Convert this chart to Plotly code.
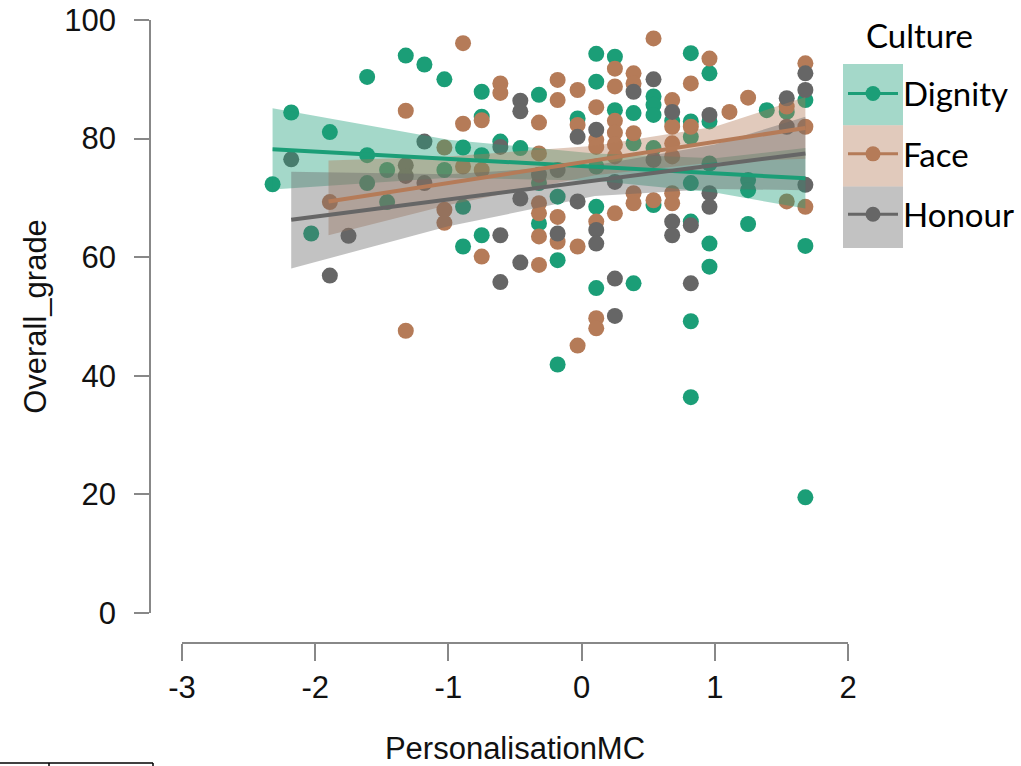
import plotly.graph_objects as go

# ---------------- data ----------------
dignity_x = [-2.32, -2.18, -2.03, -1.89, -1.61, -1.61, -1.61, -1.46, -1.46, -1.32,
             -1.18, -1.03, -1.03, -0.89, -0.89, -0.89, -0.75, -0.75, -0.75, -0.75,
             -0.61, -0.46, -0.32, -0.32, -0.32, -0.18, -0.18, -0.18, -0.03,
             0.11, 0.11, 0.11, 0.11, 0.11, 0.25, 0.25, 0.39, 0.39, 0.39,
             0.54, 0.54, 0.54, 0.54, 0.54, 0.68,
             0.82, 0.82, 0.82, 0.82, 0.82, 0.82, 0.82,
             0.96, 0.96, 0.96, 0.96, 0.96, 1.25, 1.25, 1.25, 1.39, 1.54,
             1.68, 1.68, 1.68]
dignity_y = [72.3, 84.4, 64.0, 81.1, 90.4, 77.2, 72.5, 74.7, 69.3, 94.0,
             92.5, 90.0, 74.7, 78.5, 68.5, 61.8, 87.9, 83.7, 77.2, 63.7,
             79.5, 78.4, 87.4, 72.5, 65.7, 70.2, 59.5, 41.9, 83.4,
             94.3, 89.6, 75.3, 68.5, 54.8, 93.8, 84.8, 84.3, 79.2, 55.6,
             87.1, 85.7, 84.0, 78.4, 68.8, 83.0,
             94.4, 82.9, 80.3, 72.5, 66.0, 49.2, 36.4,
             91.0, 82.9, 75.8, 62.3, 58.4, 73.0, 71.3, 65.6, 84.8, 84.5,
             86.5, 61.9, 19.5]

face_x = [-1.89, -1.32, -1.32, -1.03, -1.03, -1.03, -0.89, -0.89, -0.89,
          -0.75, -0.75, -0.75, -0.61, -0.61,
          -0.32, -0.32, -0.32, -0.32, -0.32, -0.32,
          -0.18, -0.18, -0.18, -0.18, -0.03, -0.03, -0.03, -0.03,
          0.11, 0.11, 0.11, 0.11, 0.11, 0.11,
          0.25, 0.25, 0.25, 0.25, 0.25, 0.25, 0.25,
          0.39, 0.39, 0.39, 0.39, 0.39, 0.54, 0.54,
          0.68, 0.68, 0.68, 0.68, 0.68, 0.68, 0.82, 0.82, 0.96, 1.11, 1.25,
          1.54, 1.54, 1.68, 1.68, 1.68]
face_y = [69.3, 84.7, 47.6, 78.5, 68.0, 65.8, 96.1, 82.5, 75.3,
          83.1, 74.7, 60.1, 89.3, 87.7,
          82.7, 77.5, 69.1, 67.4, 63.5, 58.7,
          89.9, 86.5, 66.8, 62.6, 88.2, 82.3, 61.8, 45.1,
          85.3, 79.8, 78.6, 66.0, 49.7, 48.0,
          91.8, 88.8, 83.0, 81.0, 79.0, 77.0, 67.4,
          91.0, 89.3, 80.9, 70.8, 69.1, 96.9, 69.6,
          86.5, 82.0, 79.2, 77.0, 70.8, 69.1, 89.3, 82.0, 93.5, 84.5, 86.9,
          85.4, 69.4, 92.7, 82.0, 68.5]

honour_x = [-2.18, -1.89, -1.75, -1.32, -1.32, -1.18, -1.18,
            -0.61, -0.61, -0.61, -0.46, -0.46, -0.46, -0.46, -0.32,
            -0.18, -0.18, -0.03, -0.03, 0.11, 0.11, 0.11, 0.25, 0.25, 0.25,
            0.39, 0.54, 0.54, 0.68, 0.68, 0.68, 0.82, 0.82, 0.96, 0.96, 0.96,
            1.54, 1.54, 1.68, 1.68, 1.68]
honour_y = [76.5, 56.9, 63.6, 75.5, 73.7, 79.5, 72.5,
            78.6, 63.7, 55.8, 86.4, 84.6, 69.9, 59.1, 73.9,
            74.7, 64.0, 80.3, 69.4, 81.5, 64.6, 62.3, 72.7, 56.4, 50.1,
            87.9, 90.0, 76.4, 84.5, 66.0, 63.7, 65.4, 55.6, 84.0, 70.8, 68.5,
            86.8, 82.0, 91.0, 88.2, 72.2]

# regression lines (end points) and confidence bands
dignity_line_x = [-2.32, 1.68]
dignity_line_y = [78.2, 73.3]
dignity_band_x = [-2.32, -1.0, 0.1, 1.0, 1.68]
dignity_band_lo = [71.4, 73.4, 72.9, 70.9, 68.2]
dignity_band_hi = [85.1, 79.8, 77.5, 76.7, 78.4]

face_line_x = [-1.9, 1.68]
face_line_y = [69.4, 81.8]
face_band_x = [-1.9, -1.0, 0.1, 1.0, 1.68]
face_band_lo = [63.7, 68.8, 73.8, 76.0, 76.6]
face_band_hi = [76.3, 77.0, 78.8, 82.0, 87.0]

honour_line_x = [-2.18, 1.68]
honour_line_y = [66.3, 77.5]
honour_band_x = [-2.18, -1.0, 0.1, 1.0, 1.68]
honour_band_lo = [58.1, 65.2, 70.3, 71.5, 71.3]
honour_band_hi = [74.4, 74.0, 75.5, 79.0, 83.7]

groups = ["Dignity", "Face", "Honour"]
x_ticks = [-3, -2, -1, 0, 1, 2]
y_ticks = [0, 20, 40, 60, 80, 100]

# ---------------- styling ----------------
colors = {"Dignity": (27, 158, 119), "Face": (181, 123, 88), "Honour": (102, 102, 102)}
def rgb(c, a=1.0):
    return f"rgba({c[0]},{c[1]},{c[2]},{a})"

pts = {"Dignity": (dignity_x, dignity_y), "Face": (face_x, face_y), "Honour": (honour_x, honour_y)}
lines = {"Dignity": (dignity_line_x, dignity_line_y), "Face": (face_line_x, face_line_y),
         "Honour": (honour_line_x, honour_line_y)}
bands = {"Dignity": (dignity_band_x, dignity_band_lo, dignity_band_hi),
         "Face": (face_band_x, face_band_lo, face_band_hi),
         "Honour": (honour_band_x, honour_band_lo, honour_band_hi)}

fig = go.Figure()

for g in groups:
    x, y = pts[g]
    fig.add_trace(go.Scatter(x=x, y=y, mode="markers", showlegend=False,
                             marker=dict(size=16, color=rgb(colors[g]), line=dict(width=0)),
                             cliponaxis=False, hoverinfo="skip"))

for g in groups:
    bx, lo, hi = bands[g]
    fig.add_trace(go.Scatter(x=list(bx) + list(bx)[::-1], y=list(hi) + list(lo)[::-1],
                             fill="toself", fillcolor=rgb(colors[g], 0.4),
                             line=dict(width=0), mode="lines", showlegend=False,
                             hoverinfo="skip"))

for g in groups:
    lx, ly = lines[g]
    fig.add_trace(go.Scatter(x=lx, y=ly, mode="lines", showlegend=False,
                             line=dict(color=rgb(colors[g]), width=4), hoverinfo="skip"))

# legend entries
for g in groups:
    fig.add_trace(go.Scatter(x=[None], y=[None], mode="lines+markers", name=g,
                             legendgroup=g,
                             line=dict(color=rgb(colors[g]), width=3),
                             marker=dict(size=15, color=rgb(colors[g]))))

W, H = 1021, 766
L, R, T, B = 150, 0, 0, 123
PW, PH = W - L - R, H - T - B

def px(xp):
    return (xp - L) / PW
def py(yp):
    return 1 - (yp - T) / PH

shapes = []
# legend background boxes
for i, g in enumerate(groups):
    y0p = 64 + i * 61.3
    shapes.append(dict(type="rect", xref="paper", yref="paper",
                       x0=px(843), x1=px(903), y0=py(y0p + 61.3), y1=py(y0p),
                       fillcolor=rgb(colors[g], 0.4), line=dict(width=0), layer="below"))
# stray table border at bottom-left
shapes.append(dict(type="line", xref="paper", yref="paper", x0=px(0), x1=px(153),
                   y0=py(763), y1=py(763), line=dict(color="black", width=1.5)))
for xv in (49, 153):
    shapes.append(dict(type="line", xref="paper", yref="paper", x0=px(xv), x1=px(xv),
                       y0=py(763), y1=py(768), line=dict(color="black", width=1.5)))

axis_font = dict(family="Liberation Sans, Arial", size=31, color="#111")
title_font = dict(family="Liberation Sans, Arial", size=31, color="#111")
legend_font = dict(family="Lato, Open Sans", size=33, color="#000")
fig.update_layout(
    width=W, height=H,
    margin=dict(l=L, r=R, t=T, b=B, pad=0, autoexpand=False),
    plot_bgcolor="white", paper_bgcolor="white",
    shapes=shapes,
    annotations=[dict(text="Culture", xref="paper", yref="paper", x=px(864), y=py(35),
                      xanchor="left", yanchor="middle", showarrow=False, font=legend_font)],
    xaxis=dict(domain=[px(182), px(848)], range=[-3, 2], anchor="free", position=0,
               automargin=False,
               showline=True, linecolor="#888", linewidth=1.5,
               ticks="outside", ticklen=17, tickwidth=1.5, tickcolor="#888",
               ticklabelstandoff=0,
               tickvals=x_ticks, ticktext=[str(v) for v in x_ticks],
               showgrid=False, zeroline=False, tickfont=axis_font,
               title=dict(text="PersonalisationMC", font=title_font, standoff=37)),
    yaxis=dict(domain=[py(613), py(20)], range=[0, 100], anchor="free", position=0,
               automargin=False,
               showline=True, linecolor="#888", linewidth=1.5,
               ticks="outside", ticklen=15, tickwidth=1.5, tickcolor="#888",
               ticklabelstandoff=12,
               tickvals=y_ticks, ticktext=[str(v) for v in y_ticks],
               showgrid=False, zeroline=False, tickfont=axis_font,
               title=dict(text="Overall_grade", font=title_font, standoff=7)),
    legend=dict(x=px(843), y=py(65.5), xanchor="left", yanchor="top",
                bgcolor="rgba(0,0,0,0)", itemwidth=50, tracegroupgap=14.5,
                font=legend_font),
)

fig.write_html("out.html", config={"displayModeBar": False},
               post_script="document.body.style.margin='0';document.body.style.overflow='hidden';")
